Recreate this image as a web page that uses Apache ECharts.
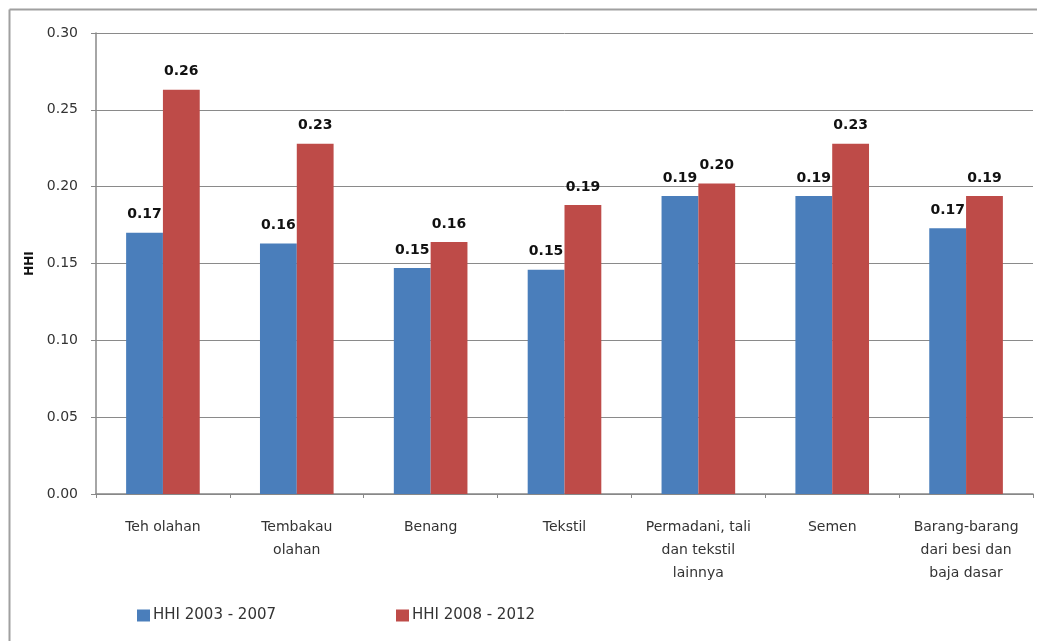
<!DOCTYPE html>
<html><head><meta charset="utf-8">
<script src="https://cdn.jsdelivr.net/npm/echarts@6/dist/echarts.min.js"></script>
<style>html,body{margin:0;padding:0;background:#fff}#c{width:1037px;height:641px}</style>
</head><body><div id="c"></div>
<script>
const categories = ['Teh olahan', 'Tembakau\nolahan', 'Benang', 'Tekstil', 'Permadani, tali\ndan tekstil\nlainnya', 'Semen', 'Barang-barang\ndari besi dan\nbaja dasar'];
const hhi2003 = [0.170, 0.163, 0.147, 0.146, 0.194, 0.194, 0.173];
const hhi2008 = [0.263, 0.228, 0.164, 0.188, 0.202, 0.228, 0.194];
const seriesNames = ['HHI 2003 - 2007', 'HHI 2008 - 2012'];
const yTicks = {min: 0, max: 0.30, interval: 0.05};

const font = '"DejaVu Sans", sans-serif';
const chart = echarts.init(document.getElementById('c'));
const lbl = {show: true, position: 'top', distance: 11, fontFamily: font, fontWeight: 'bold', fontSize: 14, color: '#111',
  formatter: p => p.value.toFixed(2)};
chart.setOption({
  animation: false,
  graphic: [
    {type: 'line', shape: {x1: 9.5, y1: 9.5, x2: 1037, y2: 9.5}, style: {stroke: '#a0a0a0', lineWidth: 2}, silent: true},
    {type: 'line', shape: {x1: 9.5, y1: 9.5, x2: 9.5, y2: 641}, style: {stroke: '#a0a0a0', lineWidth: 2}, silent: true}
  ],
  grid: {left: 96, right: 4, top: 33, bottom: 147},
  legend: [
    {data: [seriesNames[0]], left: 132, top: 603, itemWidth: 13, itemHeight: 12, icon: 'rect',
     textStyle: {fontFamily: font, fontSize: 15, color: '#333', padding: [0, 0, 0, -2]}},
    {data: [seriesNames[1]], left: 391, top: 603, itemWidth: 13, itemHeight: 12, icon: 'rect',
     textStyle: {fontFamily: font, fontSize: 15, color: '#333', padding: [0, 0, 0, -2]}}
  ],
  xAxis: {type: 'category', data: categories,
    axisLine: {lineStyle: {color: '#888', width: 1.5}},
    axisTick: {show: true, alignWithLabel: false, length: 4, lineStyle: {color: '#888'}},
    axisLabel: {interval: 0, margin: 22, fontFamily: font, fontSize: 14, color: '#333', lineHeight: 23}},
  yAxis: {type: 'value', min: yTicks.min, max: yTicks.max, interval: yTicks.interval,
    name: 'HHI', nameLocation: 'middle', nameGap: 60, nameRotate: 90,
    nameTextStyle: {fontFamily: font, fontWeight: 'bold', fontSize: 12, color: '#111'},
    axisLine: {show: true, lineStyle: {color: '#888', width: 1.5}},
    axisTick: {show: true, length: 5, lineStyle: {color: '#888'}},
    splitLine: {lineStyle: {color: '#8a8a8a', width: 1}},
    axisLabel: {margin: 18, fontFamily: font, fontSize: 14, color: '#333', formatter: v => v.toFixed(2)}},
  series: [
    {name: seriesNames[0], type: 'bar', data: hhi2003, barGap: '0%', barCategoryGap: '45%',
     itemStyle: {color: '#4a7ebb'}, label: lbl},
    {name: seriesNames[1], type: 'bar', data: hhi2008, barGap: '0%', barCategoryGap: '45%',
     itemStyle: {color: '#be4b48'}, label: lbl}
  ]
});
</script></body></html>
